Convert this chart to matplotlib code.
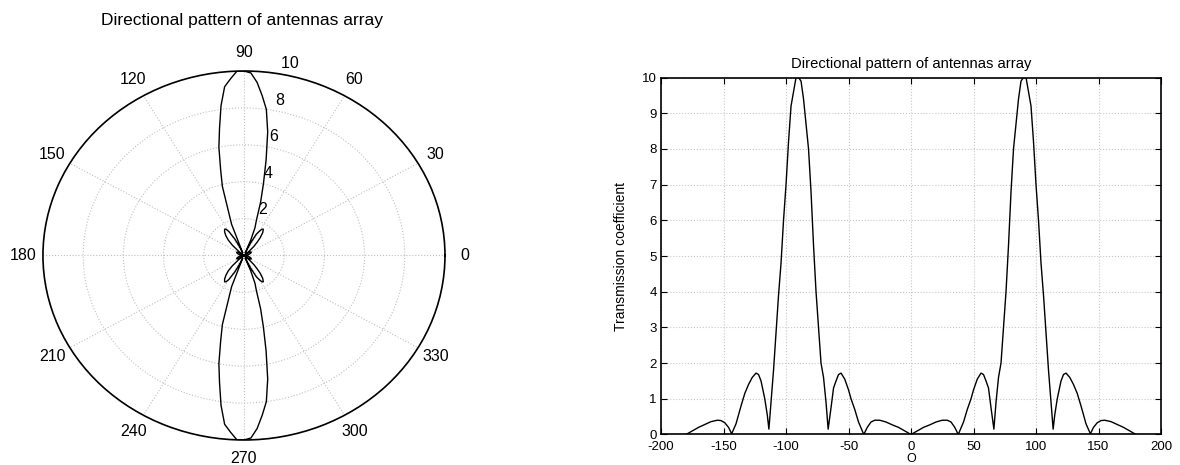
import numpy as np
import matplotlib.pyplot as plt

plt.rcParams['font.family'] = ['Liberation Sans', 'DejaVu Sans']
plt.rcParams['axes.unicode_minus'] = False

# angle (degrees) and array factor
theta_deg = [
    -180, -175, -170, -165, -160, -155, -152, -149, -146, -143.5,
    -140, -136, -133, -130, -127, -124, -122, -120, -117, -115, -113.7,
    -110, -106, -104, -102, -100, -98, -96, -94, -92, -90,
    -88, -86, -84, -82, -80, -78, -76, -74, -72, -70, -68, -66.3,
    -64, -62, -60, -58, -56, -53, -50, -48, -45, -42, -37.8,
    -35, -32, -29, -25, -20, -15, -10, -5, 0,
    5, 10, 15, 20, 25, 29, 32, 35, 37.8,
    42, 45, 48, 50, 53, 56, 58, 60, 62, 64, 66.3,
    68, 70, 72, 74, 76, 78, 80, 82, 84, 86, 88, 90,
    92, 94, 96, 98, 100, 102, 104, 106, 110, 113.7,
    115, 117, 120, 122, 124, 127, 130, 133, 136, 140, 143.5,
    146, 149, 152, 155, 160, 165, 170, 175, 180,
]
gain = [
    0.0, 0.1, 0.2, 0.28, 0.36, 0.4, 0.39, 0.33, 0.2, 0.02,
    0.3, 0.8, 1.15, 1.4, 1.6, 1.72, 1.68, 1.5, 1.0, 0.55, 0.15,
    1.8, 3.9, 4.8, 6.0, 7.0, 8.2, 9.2, 9.6, 10.0, 10.0,
    9.9, 9.4, 8.7, 8.0, 6.8, 5.3, 4.0, 3.0, 2.0, 1.6, 0.9, 0.15,
    0.75, 1.3, 1.5, 1.68, 1.72, 1.55, 1.25, 1.0, 0.7, 0.35, 0.0,
    0.2, 0.35, 0.4, 0.4, 0.35, 0.27, 0.2, 0.1, 0.0,
    0.1, 0.2, 0.27, 0.35, 0.4, 0.4, 0.35, 0.2, 0.0,
    0.35, 0.7, 1.0, 1.25, 1.55, 1.72, 1.68, 1.5, 1.3, 0.75, 0.15,
    0.9, 1.6, 2.0, 3.0, 4.0, 5.3, 6.8, 8.0, 8.7, 9.4, 9.9, 10.0,
    10.0, 9.6, 9.2, 8.2, 7.0, 6.0, 4.8, 3.9, 1.8, 0.15,
    0.55, 1.0, 1.5, 1.68, 1.72, 1.6, 1.4, 1.15, 0.8, 0.3, 0.02,
    0.2, 0.33, 0.39, 0.4, 0.36, 0.28, 0.2, 0.1, 0.0,
]

r_ticks = [2, 4, 6, 8, 10]
angle_ticks = [0, 30, 60, 90, 120, 150, 180, 210, 240, 270, 300, 330]
title = 'Directional pattern of antennas array'

fig = plt.figure(figsize=(11.8, 4.65), dpi=100)

# left: polar plot, stretched into an ellipse like the matlab figure
ax1 = fig.add_axes([0.0364, 0.0538, 0.3407, 0.7935], projection='polar')
ax1.set_aspect('auto')
ax1.plot(np.deg2rad(theta_deg), gain, color='black', linewidth=1.0)
ax1.set_ylim(0, 10)
ax1.set_yticks(r_ticks)
ax1.set_xticks(np.deg2rad(angle_ticks))
ax1.set_xticklabels([])
ax1.set_yticklabels([])
ax1.grid(True, linestyle=':', color='#c0c0c0', linewidth=0.8)
ax1.spines['polar'].set_linewidth(1.2)
ax1.tick_params(length=0)

for a in angle_ticks:
    ax1.text(np.deg2rad(a), 11.0, str(a), ha='center', va='center',
             fontsize=11.5, clip_on=False)
for r in r_ticks:
    ax1.text(np.deg2rad(82), r + 0.1, '  ' + str(r), ha='left', va='bottom',
             fontsize=11.5, clip_on=False)

fig.text(241.7 / 1180, 1 - 21 / 465, title, ha='center', va='center', fontsize=12.5)

# right: same data on cartesian axes
ax2 = fig.add_axes([0.5602, 0.0656, 0.4237, 0.7677])
ax2.plot(theta_deg, gain, color='black', linewidth=1.0)
ax2.set_xlim(-200, 200)
ax2.set_ylim(0, 10)
ax2.set_xticks(np.arange(-200, 201, 50))
ax2.set_yticks(np.arange(0, 11, 1))
ax2.grid(True, linestyle=':', color='#c8c8c8', linewidth=0.8)
ax2.tick_params(direction='in', top=True, right=True, labelsize=9.5, length=4)
ax2.tick_params(axis='y', pad=3)
ax2.tick_params(axis='x', pad=4.5)
for s in ax2.spines.values():
    s.set_linewidth(1.2)
ax2.set_title(title, fontsize=10.6, pad=7)
ax2.set_ylabel('Transmission coefficient', fontsize=10, labelpad=10)
ax2.set_xlabel('O', fontsize=9, labelpad=0)

fig.savefig('out.png', dpi=100)
